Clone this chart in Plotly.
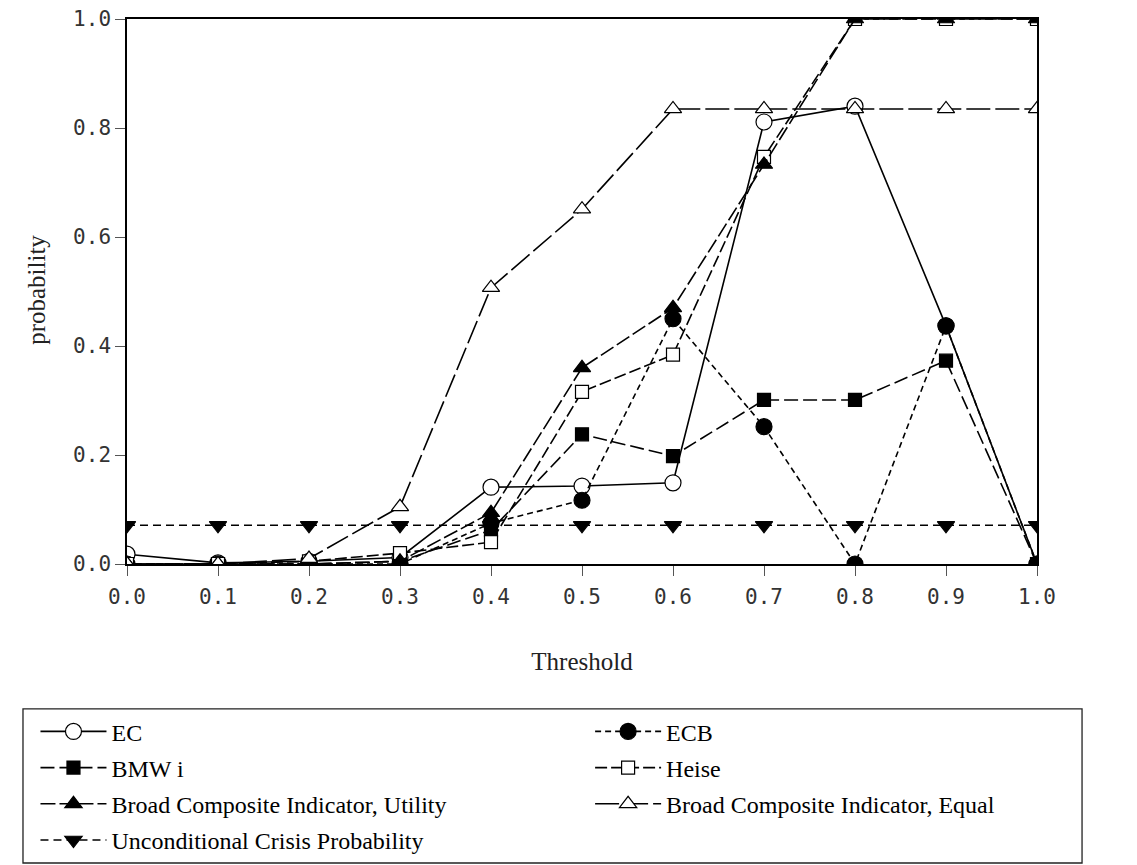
import plotly.graph_objects as go

# Threshold grid and the probability of each indicator at every threshold
thresholds = [0.0, 0.1, 0.2, 0.3, 0.4, 0.5, 0.6, 0.7, 0.8, 0.9, 1.0]
ec = [0.018, 0.002, 0.005, 0.012, 0.141, 0.143, 0.149, 0.811, 0.840, 0.437, 0.0]
ecb = [0.0, 0.0, 0.0, 0.0, 0.075, 0.117, 0.450, 0.252, 0.0, 0.437, 0.0]
bmwi = [0.0, 0.0, 0.0, 0.005, 0.062, 0.238, 0.198, 0.301, 0.301, 0.373, 0.0]
heise = [0.0, 0.0, 0.005, 0.020, 0.040, 0.316, 0.384, 0.747, 1.0, 1.0, 1.0]
bci_utility = [0.0, 0.0, 0.0, 0.005, 0.094, 0.360, 0.470, 0.733, 1.0, 1.0, 1.0]
bci_equal = [0.0, 0.0, 0.010, 0.105, 0.507, 0.651, 0.835, 0.835, 0.835, 0.835, 0.835]
unconditional = [0.071] * 11

x_ticks = [0.0, 0.1, 0.2, 0.3, 0.4, 0.5, 0.6, 0.7, 0.8, 0.9, 1.0]
x_ticktext = ["0.0", "0.1", "0.2", "0.3", "0.4", "0.5", "0.6", "0.7", "0.8", "0.9", "1.0"]
y_ticks = [0.0, 0.2, 0.4, 0.6, 0.8, 1.0]
y_ticktext = ["0.0", "0.2", "0.4", "0.6", "0.8", "1.0"]

# name, values, dash pattern, symbol, filled?, marker size, legend column
series = [
    ("EC", ec, "solid", "circle", False, 16, "legend"),
    ("ECB", ecb, "6px,4px", "circle", True, 16, "legend2"),
    ("BMW i", bmwi, "14px,5px", "square", True, 13, "legend"),
    ("Heise", heise, "12px,4px", "square", False, 13, "legend2"),
    ("Broad Composite Indicator, Utility", bci_utility, "15px,4px", "triangle-up", True, 15, "legend"),
    ("Broad Composite Indicator, Equal", bci_equal, "24px,5px", "triangle-up", False, 15, "legend2"),
    ("Unconditional Crisis Probability", unconditional, "8px,5px", "triangle-down", True, 15, "legend"),
]

fig = go.Figure()
for name, vals, dash, symbol, filled, size, leg in series:
    fig.add_trace(go.Scatter(
        x=thresholds, y=vals, name=name, mode="lines+markers",
        legend=leg, legendgroup=name,
        line=dict(color="black", width=1.6, dash=dash),
        marker=dict(symbol=symbol, size=size, color="black" if filled else "white",
                    line=dict(color="black", width=1.2)),
    ))

serif = "Liberation Serif"
mono = "DejaVu Sans Mono"

legend_style = dict(
    orientation="v", yanchor="top", xanchor="left",
    xref="container", yref="container",
    bgcolor="rgba(0,0,0,0)", borderwidth=0,
    font=dict(family=serif, size=24, color="black"),
    itemwidth=66, tracegroupgap=2, traceorder="grouped",
)

fig.update_layout(
    width=1137, height=865,
    margin=dict(l=127, r=100, t=19, b=301, autoexpand=False),
    paper_bgcolor="white", plot_bgcolor="white",
    showlegend=True,
    legend=dict(x=0.0312, y=0.180, **legend_style),
    legend2=dict(x=0.519, y=0.180, **legend_style),
    # frame around the two legend columns
    shapes=[dict(type="rect", xref="paper", yref="paper",
                 x0=-0.1143, x1=1.0495, y0=-0.5486, y1=-0.266,
                 line=dict(color="#222", width=1.3), fillcolor="rgba(0,0,0,0)", layer="below")],
    # vertical axis title
    annotations=[dict(text="probability", xref="paper", yref="paper",
                      x=-0.0989, y=0.503, xanchor="center", yanchor="middle",
                      textangle=-90, showarrow=False,
                      font=dict(family=serif, size=25, color="#222"))],
    xaxis=dict(
        range=[0, 1], tickvals=x_ticks, ticktext=x_ticktext,
        showgrid=False, zeroline=False, showline=True, linecolor="black", linewidth=1.5,
        mirror=True, ticks="outside", ticklen=10, tickcolor="#555",
        ticklabelstandoff=3,
        tickfont=dict(family=mono, size=21, color="#333"),
        title=dict(text="Threshold", font=dict(family=serif, size=25, color="#222"), standoff=45),
    ),
    yaxis=dict(
        range=[0, 1], tickvals=y_ticks, ticktext=y_ticktext,
        showgrid=False, zeroline=False, showline=True, linecolor="black", linewidth=1.5,
        mirror=True, ticks="outside", ticklen=10, tickcolor="#555",
        tickfont=dict(family=mono, size=21, color="#333"),
    ),
)

fig.write_html("out.html")
